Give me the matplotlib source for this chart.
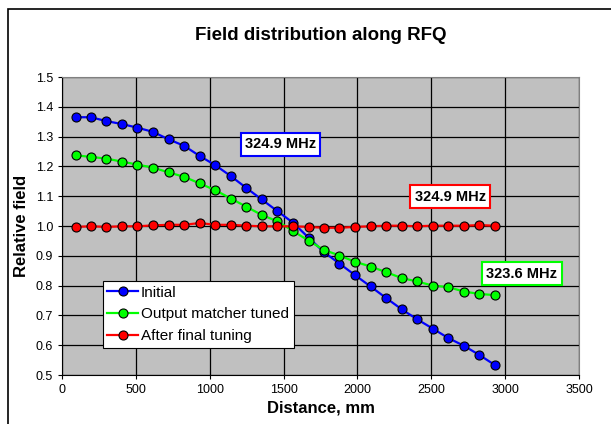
import numpy as np
from matplotlib import pyplot as plt
from matplotlib.patches import Rectangle

plt.rcParams['font.family'] = ['Liberation Sans', 'DejaVu Sans']

distance = [92, 195, 301, 407, 510, 615, 721, 827, 932, 1038, 1144, 1247, 1352, 1458,
            1564, 1669, 1772, 1878, 1984, 2089, 2195, 2301, 2404, 2509, 2615, 2721, 2826, 2932]

initial = [1.365, 1.365, 1.352, 1.342, 1.330, 1.316, 1.291, 1.269, 1.235, 1.204, 1.167, 1.128,
           1.089, 1.050, 1.011, 0.961, 0.913, 0.874, 0.835, 0.797, 0.758, 0.720, 0.687, 0.656,
           0.624, 0.598, 0.567, 0.533]
matcher = [1.237, 1.232, 1.226, 1.216, 1.206, 1.196, 1.180, 1.165, 1.143, 1.120, 1.092, 1.065,
           1.037, 1.016, 0.983, 0.951, 0.920, 0.901, 0.880, 0.864, 0.845, 0.825, 0.814, 0.800,
           0.795, 0.780, 0.772, 0.768]
final = [0.997, 0.999, 0.997, 0.999, 0.999, 1.002, 1.004, 1.004, 1.010, 1.004, 1.004, 1.001,
         0.999, 0.999, 0.999, 0.997, 0.994, 0.994, 0.997, 0.999, 1.001, 1.001, 0.999, 1.001,
         1.001, 1.001, 1.003, 1.001]

labels = ["Initial", "Output matcher tuned", "After final tuning"]
freq_labels = ["324.9 MHz", "324.9 MHz", "323.6 MHz"]
freq_pos = [(1479, 1.274), (2628, 1.098), (3114, 0.840)]

fig = plt.figure(figsize=(6.11, 4.24), dpi=100)
fig.patches.append(Rectangle((8/611, -0.1), 1.1, 0.1 + (424-9)/424, transform=fig.transFigure,
                             fill=False, edgecolor='black', linewidth=1.2))
ax = fig.add_axes([62/611, 1 - 375/424, (579-62)/611, (375-77)/424])
ax.set_facecolor('#C0C0C0')

cols = ['#0000FF', '#00FF00', '#FF0000']
for y, c, lab in zip([initial, matcher, final], cols, labels):
    ax.plot(distance, y, color=c, lw=1.6, marker='o', ms=6.5, mfc=c, mec='black', mew=0.8,
            label=lab, zorder=3)

box_cols = ['#0000FF', '#FF0000', '#00FF00']
for (x, y), s, c in zip(freq_pos, freq_labels, box_cols):
    ax.text(x, y, s, ha='center', va='center', fontsize=10.5, fontweight='bold', zorder=5,
            bbox=dict(boxstyle='square,pad=0.3', fc='white', ec=c, lw=1.5))

ax.set_xlim(0, 3500)
ax.set_ylim(0.5, 1.5)
ax.set_xticks(np.arange(0, 3501, 500))
ax.set_yticks(np.arange(0.5, 1.51, 0.1))
ax.set_yticklabels([f"{v:.1f}" for v in np.arange(0.5, 1.51, 0.1)])
ax.grid(color='black', lw=0.9)
ax.set_axisbelow(True)
ax.tick_params(labelsize=9, direction='out', length=3, width=0.8)
for s in ['top', 'right']:
    ax.spines[s].set_color('#808080')
for s in ['left', 'bottom']:
    ax.spines[s].set_color('black')

ax.set_title("Field distribution along RFQ", fontsize=13.5, fontweight='bold', pad=27)
ax.set_xlabel("Distance, mm", fontsize=12, fontweight='bold', labelpad=3)
ax.set_ylabel("Relative field", fontsize=12, fontweight='bold', labelpad=5)

leg = ax.legend(loc='lower left', bbox_to_anchor=(0.079, 0.092), fontsize=11, frameon=True,
                fancybox=False, framealpha=1, edgecolor='black', borderpad=0.3,
                handlelength=2.0, handletextpad=0.2, labelspacing=0.5, borderaxespad=0)
leg.get_frame().set_linewidth(0.8)

fig.savefig("out.png", dpi=100)
